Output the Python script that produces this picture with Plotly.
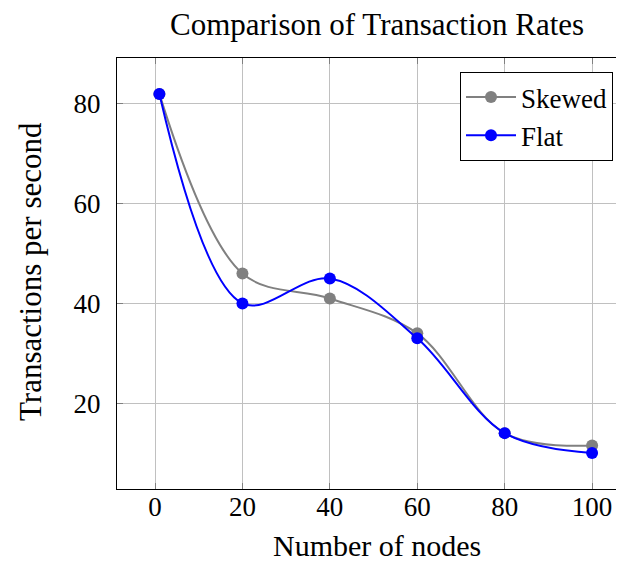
import plotly.graph_objects as go

nodes = [1, 20, 40, 60, 80, 100]
skewed = [82, 46, 41, 34, 14, 11.5]
flat = [82, 40, 45, 33, 14, 10]
x_ticks = [0, 20, 40, 60, 80, 100]
y_ticks = [20, 40, 60, 80]

FONT = "Liberation Serif"
FS = 31     # titles
TFS = 27    # tick labels
LFS = 27    # legend
OFF = 8  # page body margin
# plot area in screenshot pixels
PL, PT, PR, PB = 117, 58, 624, 489
W, H = 624 - OFF, 564 - OFF


def px(xi):
    return (xi - PL) / (PR - PL)


def py(yi):
    return (PB - yi) / (PB - PT)


fig = go.Figure()
fig.add_trace(go.Scatter(x=nodes, y=skewed, name="Skewed", mode="lines+markers",
                         line=dict(color="#808080", width=2, shape="spline", smoothing=1.0),
                         marker=dict(color="#808080", size=12)))
fig.add_trace(go.Scatter(x=nodes, y=flat, name="Flat", mode="lines+markers",
                         line=dict(color="#0000ff", width=2, shape="spline", smoothing=1.0),
                         marker=dict(color="#0000ff", size=12)))

fig.update_layout(
    template="none",
    width=W, height=H,
    margin=dict(l=PL - OFF, r=0, t=PT - OFF, b=H - (PB - OFF), pad=0),
    paper_bgcolor="white", plot_bgcolor="white",
    font=dict(family=FONT, size=FS, color="black"),
    showlegend=True,
    legend=dict(x=px(460), y=py(72), xanchor="left", yanchor="top",
                bordercolor="black", borderwidth=1, bgcolor="white",
                font=dict(family=FONT, size=LFS), tracegroupgap=0,
                itemwidth=50),
    xaxis=dict(range=[-8.7, 107.3], tickvals=x_ticks, showgrid=True, gridcolor="#c0c0c0",
               gridwidth=1, zeroline=False, showline=True, linecolor="black", linewidth=1,
               mirror="allticks", ticks="inside", ticklen=6, tickcolor="#808080",
               tickfont=dict(family=FONT, size=TFS), ticklabelstandoff=-6),
    yaxis=dict(range=[2.8, 89.2], tickvals=y_ticks, showgrid=True, gridcolor="#c0c0c0",
               gridwidth=1, zeroline=False, showline=True, linecolor="black", linewidth=1,
               mirror=False, ticks="inside", ticklen=6, tickcolor="#808080",
               tickfont=dict(family=FONT, size=TFS), ticklabelstandoff=10),
    annotations=[
        dict(text="Comparison of Transaction Rates", xref="paper", yref="paper",
             x=px(377), y=py(24), showarrow=False,
             xanchor="center", yanchor="middle", font=dict(family=FONT, size=FS)),
        dict(text="Number of nodes", xref="paper", yref="paper",
             x=px(377), y=py(545), showarrow=False,
             xanchor="center", yanchor="middle", font=dict(family=FONT, size=30)),
        dict(text="Transactions per second", xref="paper", yref="paper",
             x=px(30), y=py(272), showarrow=False,
             xanchor="center", yanchor="middle", textangle=-90, font=dict(family=FONT, size=FS)),
    ],
)

fig.write_html("out.html")
